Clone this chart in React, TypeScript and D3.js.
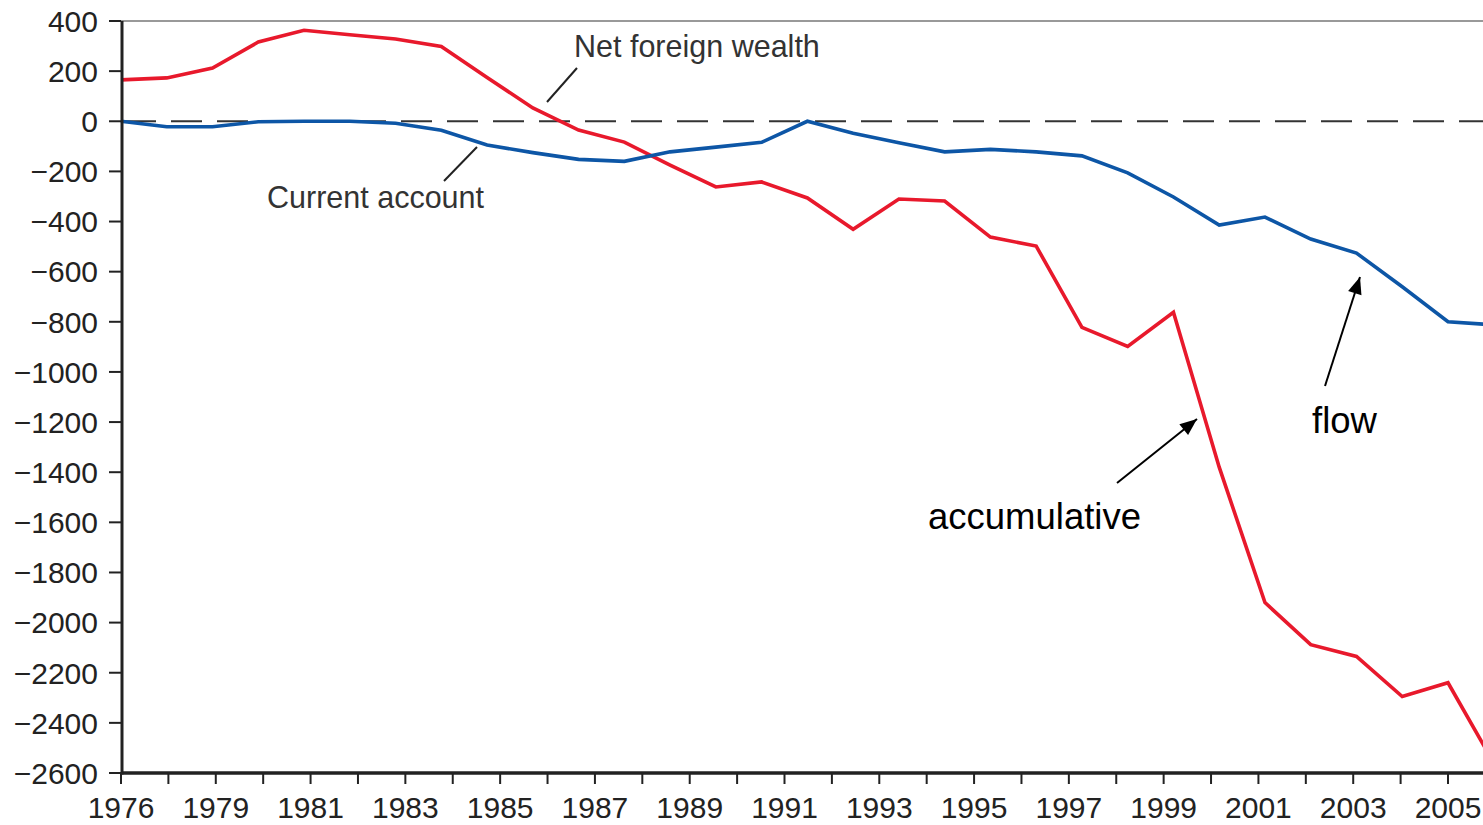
import React from "react";
import * as d3 from "d3";

// yearly values, 1976..2006 (last point falls just past the right edge)
const years = d3.range(1976, 2007);
const netForeignWealth = [
  165, 173, 212, 316, 363, 345, 328, 298, 175, 53,
  -35, -83, -175, -262, -242, -306, -431, -310, -318, -462,
  -498, -822, -898, -762, -1380, -1920, -2088, -2135, -2295, -2240,
  -2560,
];
const currentAccount = [
  0, -22, -22, -2, 0, 0, -8, -36, -95, -125,
  -152, -160, -122, -103, -84, 0, -48, -86, -122, -112,
  -122, -138, -206, -302, -414, -382, -470, -526, -660, -800,
  -812,
];
// the axis carries 29 ticks, every other one labelled
const xTickLabels = [
  "1976", "1979", "1981", "1983", "1985", "1987", "1989", "1991",
  "1993", "1995", "1997", "1999", "2001", "2003", "2005",
];
const yTicks = d3.range(400, -2601, -200);

const W = 1483;
const H = 825;
const RED = "#e8192c";
const BLUE = "#0d56a6";
const FONT = "'Liberation Sans', Arial, Helvetica, sans-serif";

const fmt = (v: number) => (v < 0 ? "\u2212" + Math.abs(v) : String(v));

export default function App() {
  const x = d3.scaleLinear().domain([1976, 2005]).range([121, 1448]);
  const y = d3.scaleLinear().domain([-2600, 400]).range([773, 21]);

  const nTicks = (xTickLabels.length - 1) * 2; // 28 intervals
  const tickYears = d3.range(nTicks + 1).map((k) => 1976 + (k * 29) / nTicks);

  const line = d3
    .line<number>()
    .x((_, i) => x(years[i]))
    .y((d) => y(d));

  const left = x(1976);
  const bottom = y(-2600);
  const top = y(400);

  return (
    <div style={{ position: "absolute", left: 0, top: 0 }}>
      <svg width={W} height={H} style={{ display: "block", background: "#fff" }}>
        {/* top frame line */}
        <line x1={left} x2={W} y1={top} y2={top} stroke="#777" strokeWidth={1.5} />

        {/* zero line */}
        <line
          x1={left}
          x2={W}
          y1={y(0)}
          y2={y(0)}
          stroke="#333"
          strokeWidth={2}
          strokeDasharray="31 15"
          strokeDashoffset={-4}
        />

        {/* series */}
        <path d={line(netForeignWealth) || ""} fill="none" stroke={RED} strokeWidth={3.6} strokeLinejoin="miter" />
        <path d={line(currentAccount) || ""} fill="none" stroke={BLUE} strokeWidth={3.6} strokeLinejoin="miter" />

        {/* y axis */}
        <g fontFamily={FONT} fontSize={30} fill="#222">
          {yTicks.map((t) => (
            <g key={t}>
              <line x1={left - 12} x2={left} y1={y(t)} y2={y(t)} stroke="#222" strokeWidth={2} />
              <text x={98} y={y(t)} dy="0.36em" textAnchor="end">
                {fmt(t)}
              </text>
            </g>
          ))}
        </g>
        <line x1={left + 1} x2={left + 1} y1={top} y2={bottom + 1.5} stroke="#222" strokeWidth={3} />

        {/* x axis */}
        <line x1={left} x2={W} y1={bottom} y2={bottom} stroke="#222" strokeWidth={3.5} />
        <g fontFamily={FONT} fontSize={30} fill="#222">
          {tickYears.map((t, k) => (
            <g key={k}>
              <line x1={x(t)} x2={x(t)} y1={bottom} y2={bottom + 11} stroke="#222" strokeWidth={2} />
              {k % 2 === 0 && (
                <text x={x(t)} y={818} textAnchor="middle">
                  {xTickLabels[k / 2]}
                </text>
              )}
            </g>
          ))}
        </g>

        {/* series labels */}
        <g fontFamily={FONT} fontSize={30.5} fill="#333">
          <text x={574} y={57}>Net foreign wealth</text>
          <text x={267} y={208}>Current account</text>
        </g>
        <line x1={547} y1={102} x2={577} y2={68} stroke="#222" strokeWidth={2} />
        <line x1={444} y1={181} x2={477} y2={147} stroke="#222" strokeWidth={2} />

        {/* annotations */}
        <g stroke="#000" strokeWidth={2}>
          <line x1={1325} y1={386} x2={1360} y2={277} />
          <line x1={1117} y1={483} x2={1197} y2={419} />
        </g>
        <g fill="#000">
          <path d={arrowHead(1325, 386, 1360, 277)} />
          <path d={arrowHead(1117, 483, 1197, 419)} />
        </g>
        <g fontFamily={FONT} fontSize={36.5} fill="#000">
          <text x={1312} y={433}>flow</text>
          <text x={928} y={529}>accumulative</text>
        </g>
      </svg>
    </div>
  );
}

// filled triangular head ending at (x2, y2)
function arrowHead(x1: number, y1: number, x2: number, y2: number) {
  const a = Math.atan2(y2 - y1, x2 - x1);
  const len = 17;
  const half = 7;
  const bx = x2 - len * Math.cos(a);
  const by = y2 - len * Math.sin(a);
  const px = -Math.sin(a) * half;
  const py = Math.cos(a) * half;
  return `M${x2},${y2}L${bx + px},${by + py}L${bx - px},${by - py}Z`;
}
